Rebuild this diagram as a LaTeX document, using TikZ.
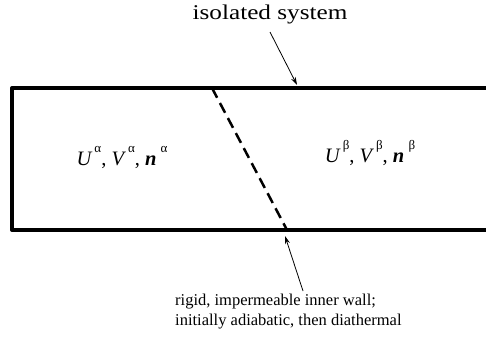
\documentclass[tikz,border=0pt]{standalone}
\usepackage{fontspec}
\setmainfont{Liberation Serif}
\usetikzlibrary{arrows.meta}

\newcommand{\phase}[1]{\/\kern2pt\raisebox{0.62em}{\fontsize{13}{14}\selectfont #1}}

\begin{document}
\begin{tikzpicture}[x=1pt,y=-1pt,
    wall/.style={line width=4pt, line join=round},
    inner wall/.style={line width=2.5pt, dash pattern=on 11pt off 6pt},
    pointer/.style={line width=0.8pt, -{Stealth[length=8pt,width=5pt]}},
    label/.style={inner sep=0pt, font=\fontsize{20.5}{22}\selectfont}]
  \useasboundingbox (0,0) rectangle (486,342);
  % box corners
  \coordinate (tl) at (12,88);
  \coordinate (bl) at (12,230);
  \coordinate (tr) at (490,88);
  \coordinate (br) at (490,230);
  % inner wall ends
  \coordinate (w1) at (212,88);
  \coordinate (w2) at (287,230);
  % arrow heads
  \coordinate (h1) at (297,85);
  \coordinate (h2) at (285,236);
  \node[label, font=\fontsize{21}{22}\selectfont, anchor=base] (sys) at (270,20)
    {\scalebox{1.2}[1]{isolated system}};
  \node[label, align=left, anchor=base west, font=\fontsize{16.5}{20}\selectfont] (note) at (175,325)
    {rigid, impermeable inner wall;\\initially adiabatic, then diathermal};
  \node[label, anchor=base] (alpha) at (122,165)
    {\textit{U}\phase{α}, \textit{V}\phase{α}, \textbf{\textit{n}}\phase{\,α}};
  \node[label, anchor=base] (beta) at (370,162)
    {\textit{U}\phase{β}, \textit{V}\phase{β}, \textbf{\textit{n}}\phase{\,β}};
  \draw[wall] (tr) -- (tl) -- (bl) -- (br);
  \draw[inner wall] (w1) -- (w2);
  \draw[pointer] (270,32) -- (h1);
  \draw[pointer] (303,291) -- (h2);
\end{tikzpicture}
\end{document}
